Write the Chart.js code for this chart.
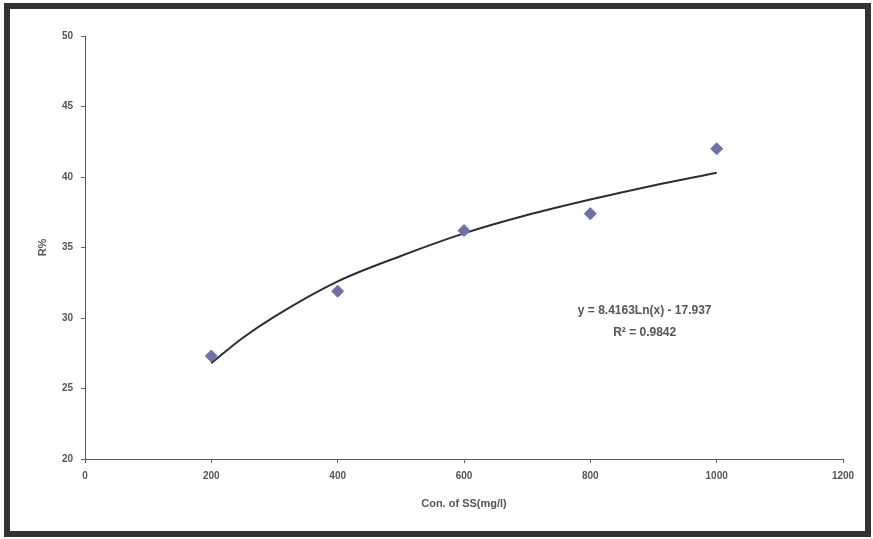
<!DOCTYPE html>
<html>
<head>
<meta charset="utf-8">
<script src="https://cdn.jsdelivr.net/npm/chart.js@4/dist/chart.umd.min.js"></script>
<style>
    body { margin: 0; background: #fff; }
    #wrap { width: 873px; height: 539px; }
</style>
</head>
<body>
<div id="wrap"><canvas id="ssChart" width="873" height="539"></canvas></div>
<script>
// measured points
const concSS = [200, 400, 600, 800, 1000];
const removalPct = [27.3, 31.9, 36.2, 37.4, 42.0];

// log trendline
const trendX = [200, 250, 300, 400, 500, 600, 700, 800, 900, 1000];
const trendY = [26.8, 28.6, 30.1, 32.6, 34.4, 36.0, 37.3, 38.4, 39.4, 40.3];

const xTicks = [0, 200, 400, 600, 800, 1000, 1200];
const yTicks = [20, 25, 30, 35, 40, 45, 50];

const eqLines = ['y = 8.4163Ln(x) - 17.937', 'R\u00B2 = 0.9842'];

const tickFont = { family: 'Liberation Sans, Arial, sans-serif', size: 10, weight: 'bold' };

// white page + dark scanned frame
const framePlugin = {
    id: 'frame',
    beforeDraw(chart) {
        const c = chart.ctx;
        c.save();
        c.fillStyle = '#fff';
        c.fillRect(0, 0, chart.width, chart.height);
        c.strokeStyle = '#333';
        c.lineWidth = 6;
        c.strokeRect(7, 6, chart.width - 12, chart.height - 11);
        c.restore();
    }
};

// trendline equation text
const eqPlugin = {
    id: 'eqText',
    afterDatasetsDraw(chart) {
        const c = chart.ctx;
        const x = chart.scales.x.getPixelForValue(886);
        const y0 = chart.scales.y.getPixelForValue(30.5);
        c.save();
        c.font = 'bold 12px Liberation Sans, Arial, sans-serif';
        c.fillStyle = '#555';
        c.textAlign = 'center';
        c.textBaseline = 'middle';
        eqLines.forEach((t, i) => c.fillText(t, x, y0 + i * 22));
        c.restore();
    }
};

const ctx = document.getElementById('ssChart').getContext('2d');
new Chart(ctx, {
    type: 'scatter',
    data: {
        datasets: [{
            label: 'R%',
            data: concSS.map((v, i) => ({ x: v, y: removalPct[i] })),
            pointStyle: 'rectRot',
            pointRadius: 6,
            backgroundColor: '#6f6fae',
            borderColor: '#6f6fae',
            borderWidth: 1,
            order: 1
        }, {
            label: 'Log trend',
            type: 'line',
            data: trendX.map((v, i) => ({ x: v, y: trendY[i] })),
            borderColor: '#2e2e2e',
            borderWidth: 2,
            pointRadius: 0,
            fill: false,
            cubicInterpolationMode: 'monotone',
            order: 2
        }]
    },
    options: {
        responsive: false,
        animation: false,
        layout: { padding: { left: 0, top: 36, right: 30, bottom: 0 } },
        plugins: {
            legend: { display: false },
            tooltip: { enabled: false }
        },
        scales: {
            x: {
                type: 'linear',
                min: 0,
                max: 1200,
                afterFit(scale) { scale.height = 80; },
                afterBuildTicks(scale) { scale.ticks = xTicks.map(v => ({ value: v })); },
                grid: { drawOnChartArea: false, drawTicks: true, tickLength: 4, color: '#666' },
                border: { color: '#555', width: 1 },
                ticks: {
                    font: tickFont, color: '#555', padding: 7, maxRotation: 0,
                    callback: v => String(v)
                },
                title: {
                    display: true,
                    text: 'Con. of SS(mg/l)',
                    font: { family: 'Liberation Sans, Arial, sans-serif', size: 11, weight: 'bold' },
                    color: '#555',
                    padding: { top: 4, bottom: 28 }
                }
            },
            y: {
                min: 20,
                max: 50,
                afterFit(scale) { scale.width = 85; },
                afterBuildTicks(scale) { scale.ticks = yTicks.map(v => ({ value: v })); },
                grid: { drawOnChartArea: false, drawTicks: true, tickLength: 4, color: '#666' },
                border: { color: '#555', width: 1 },
                ticks: { font: tickFont, color: '#555', padding: 8, callback: v => String(v) },
                title: {
                    display: true,
                    text: 'R%',
                    font: { family: 'Liberation Sans, Arial, sans-serif', size: 11, weight: 'bold' },
                    color: '#555',
                    padding: { top: 36, bottom: 4 }
                }
            }
        }
    },
    plugins: [framePlugin, eqPlugin]
});
</script>
</body>
</html>
